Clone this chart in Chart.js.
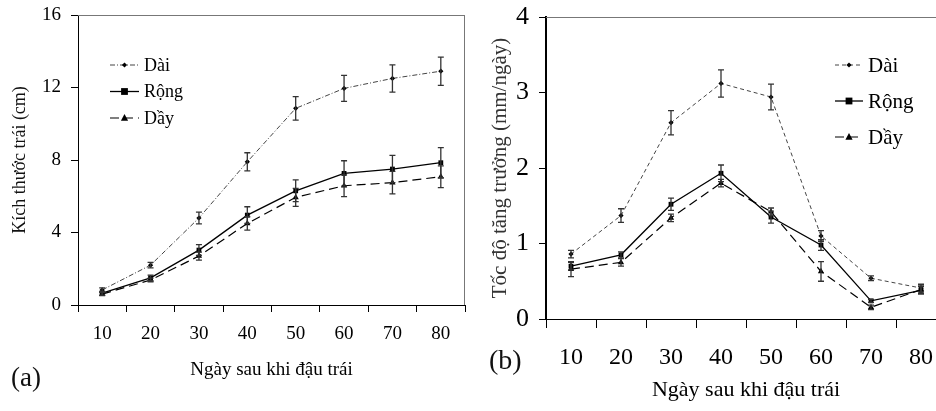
<!DOCTYPE html>
<html>
<head>
<meta charset="utf-8">
<script src="https://cdn.jsdelivr.net/npm/chart.js@4.4.1/dist/chart.umd.min.js"></script>
<style>
  body { margin: 0; width: 936px; height: 411px; overflow: hidden; background: #fff; position: relative; }
  canvas { position: absolute; top: 0; }
  #chartA { left: 0; }
  #chartB { left: 470px; }
  .panel-tag { position: absolute; font-family: "Liberation Serif", "Times New Roman", serif; color: #111; line-height: 1; }
</style>
</head>
<body>
<canvas id="chartA" width="470" height="411"></canvas>
<canvas id="chartB" width="490" height="411"></canvas>
<div class="panel-tag" style="left:11px; top:364px; font-size:27px;">(a)</div>
<div class="panel-tag" style="left:489px; top:346px; font-size:28px;">(b)</div>

<script>
// ================= DATA =================
const days = ["10", "20", "30", "40", "50", "60", "70", "80"];
const seriesNames = ["Dài", "Rộng", "Dầy"];

// (a) kich thuoc trai (cm)
const sizeDai = [0.83, 2.2, 4.8, 7.9, 10.85, 11.95, 12.5, 12.9];
const sizeDaiErr = [0.12, 0.15, 0.32, 0.5, 0.65, 0.72, 0.75, 0.78];
const sizeRong = [0.65, 1.5, 3.03, 4.96, 6.3, 7.26, 7.5, 7.85];
const sizeRongErr = [0.1, 0.15, 0.3, 0.46, 0.6, 0.7, 0.75, 0.83];
const sizeDay = [0.6, 1.38, 2.7, 4.5, 5.94, 6.58, 6.75, 7.08];
const sizeDayErr = [0.08, 0.1, 0.22, 0.37, 0.5, 0.6, 0.62, 0.6];

// (b) toc do tang truong (mm/ngay)
const rateDai = [0.86, 1.37, 2.6, 3.12, 2.94, 1.1, 0.54, 0.41];
const rateDaiErr = [0.05, 0.09, 0.16, 0.18, 0.17, 0.07, 0.03, 0.05];
const rateRong = [0.7, 0.85, 1.52, 1.93, 1.35, 0.98, 0.24, 0.38];
const rateRongErr = [0.05, 0.04, 0.08, 0.11, 0.08, 0.07, 0.02, 0.05];
const rateDay = [0.66, 0.75, 1.34, 1.8, 1.42, 0.63, 0.155, 0.39];
const rateDayErr = [0.1, 0.05, 0.05, 0.05, 0.05, 0.13, 0.03, 0.05];

const sizeTicks = [0, 4, 8, 12, 16];
const rateTicks = [0, 1, 2, 3, 4];

const SERIF = "'Liberation Serif', 'Times New Roman', serif";

// ================= MARKERS =================
function drawMarker(ctx, style, x, y, r) {
  ctx.beginPath();
  if (style === "rect") {
    ctx.rect(x - r, y - r, r * 2, r * 2);
  } else if (style === "triangle") {
    ctx.moveTo(x, y - r * 1.1);
    ctx.lineTo(x + r, y + r * 0.75);
    ctx.lineTo(x - r, y + r * 0.75);
    ctx.closePath();
  } else {
    ctx.moveTo(x, y - r);
    ctx.lineTo(x + r, y);
    ctx.lineTo(x, y + r);
    ctx.lineTo(x - r, y);
    ctx.closePath();
  }
  ctx.fill();
}

// ================= PLUGINS =================
// frame lines (top / right) in grey
const framePlugin = {
  id: "frame",
  beforeDatasetsDraw(chart, args, opts) {
    const { ctx, chartArea } = chart;
    ctx.save();
    ctx.strokeStyle = opts.color;
    ctx.lineWidth = 1;
    ctx.beginPath();
    ctx.moveTo(chartArea.left, chartArea.top + 0.5);
    ctx.lineTo(opts.toEdge ? chart.width : chartArea.right, chartArea.top + 0.5);
    if (!opts.toEdge) {
      ctx.moveTo(chartArea.right - 0.5, chartArea.top);
      ctx.lineTo(chartArea.right - 0.5, chartArea.bottom);
    }
    ctx.stroke();
    ctx.restore();
  },
};

// error bars, read from dataset.errors
const errorBarPlugin = {
  id: "errorBars",
  afterDatasetsDraw(chart) {
    const ctx = chart.ctx;
    const yScale = chart.scales.y;
    ctx.save();
    ctx.strokeStyle = "#333";
    ctx.lineWidth = 1.3;
    chart.data.datasets.forEach((ds, i) => {
      const meta = chart.getDatasetMeta(i);
      meta.data.forEach((pt, j) => {
        const err = ds.errors[j];
        const top = yScale.getPixelForValue(ds.data[j] + err);
        const bot = yScale.getPixelForValue(ds.data[j] - err);
        ctx.beginPath();
        ctx.moveTo(pt.x, top);
        ctx.lineTo(pt.x, bot);
        ctx.moveTo(pt.x - 3, top);
        ctx.lineTo(pt.x + 3, top);
        ctx.moveTo(pt.x - 3, bot);
        ctx.lineTo(pt.x + 3, bot);
        ctx.stroke();
      });
    });
    ctx.restore();
  },
};

// legend: line sample + marker + text
const lineLegendPlugin = {
  id: "lineLegend",
  afterDraw(chart, args, opts) {
    const ctx = chart.ctx;
    chart.data.datasets.forEach((ds, i) => {
      const y = opts.y + i * opts.gap;
      ctx.save();
      ctx.strokeStyle = ds.borderColor;
      ctx.lineWidth = ds.borderWidth;
      ctx.setLineDash(ds.borderDash || []);
      ctx.beginPath();
      ctx.moveTo(opts.x, y);
      ctx.lineTo(opts.x + opts.len, y);
      ctx.stroke();
      ctx.setLineDash([]);
      ctx.fillStyle = "#000";
      drawMarker(ctx, ds.pointStyle, opts.x + opts.len / 2, y, ds.pointRadius);
      ctx.font = opts.font;
      ctx.textBaseline = "middle";
      ctx.fillText(ds.label, opts.x + opts.len + opts.textGap, y + 1);
      ctx.restore();
    });
  },
};

// ================= BUILD DATASETS =================
function buildDatasets(values, errors, daiDash) {
  return [
    {
      label: seriesNames[0],
      data: values[0],
      errors: errors[0],
      borderColor: "#444",
      borderWidth: 1,
      borderDash: daiDash,
      pointStyle: "rectRot",
      pointRadius: 2.6,
      pointBackgroundColor: "#000",
      pointBorderWidth: 0,
    },
    {
      label: seriesNames[1],
      data: values[1],
      errors: errors[1],
      borderColor: "#000",
      borderWidth: 1.3,
      borderDash: [],
      pointStyle: "rect",
      pointRadius: 3.4,
      pointBackgroundColor: "#000",
      pointBorderWidth: 0,
    },
    {
      label: seriesNames[2],
      data: values[2],
      errors: errors[2],
      borderColor: "#000",
      borderWidth: 1.2,
      borderDash: [9, 5],
      pointStyle: "triangle",
      pointRadius: 3.6,
      pointBackgroundColor: "#000",
      pointBorderWidth: 0,
    },
  ];
}

// ================= PANEL =================
function createPanel(canvasId, p) {
  return new Chart(document.getElementById(canvasId), {
    type: "line",
    data: { labels: days, datasets: p.datasets },
    plugins: [framePlugin, errorBarPlugin, lineLegendPlugin],
    options: {
      responsive: false,
      animation: false,
      layout: { padding: p.padding },
      elements: { line: { tension: 0 } },
      plugins: {
        legend: { display: false },
        tooltip: { enabled: false },
        frame: { color: "#777", toEdge: p.toEdge },
        lineLegend: p.legend,
      },
      scales: {
        x: {
          offset: true,
          grid: {
            offset: true,
            drawOnChartArea: false,
            color: "#000",
            tickLength: p.xTickLen,
          },
          border: { color: "#000", width: 1 },
          ticks: {
            color: "#000",
            font: { family: SERIF, size: p.xFont },
            padding: p.xPad,
            maxRotation: 0,
          },
          title: {
            display: true,
            text: "Ngày sau khi đậu trái",
            color: "#000",
            font: { family: SERIF, size: p.xTitleFont },
            padding: 0,
          },
          afterFit: (s) => {
            s.height = p.xHeight;
            s.paddingLeft = 0;
            s.paddingRight = 0;
          },
        },
        y: {
          min: p.yTicks[0],
          max: p.yTicks[p.yTicks.length - 1],
          afterBuildTicks: (s) => {
            s.ticks = p.yTicks.map((v) => ({ value: v }));
          },
          grid: {
            drawOnChartArea: false,
            color: "#000",
            tickLength: 7,
          },
          border: { color: "#000", width: p.yBorder },
          ticks: {
            color: "#000",
            font: { family: SERIF, size: p.yFont },
            padding: p.yPad,
          },
          title: {
            display: true,
            text: p.yTitle,
            color: p.yTitleColor,
            font: { family: SERIF, size: p.yTitleFont },
            padding: 0,
          },
          afterFit: (s) => {
            s.width = p.yWidth;
            s.paddingTop = 0;
            s.paddingBottom = 0;
          },
        },
      },
    },
  });
}

// ================= (a) SIZE =================
createPanel("chartA", {
  datasets: buildDatasets(
    [sizeDai, sizeRong, sizeDay],
    [sizeDaiErr, sizeRongErr, sizeDayErr],
    [5, 2, 1, 2]
  ),
  padding: { left: 9, top: 15, right: 5, bottom: 30 },
  toEdge: false,
  xHeight: 76,
  yWidth: 69,
  xTickLen: 7,
  xFont: 19,
  xPad: 11,
  xTitleFont: 19,
  yFont: 19,
  yPad: 10,
  yBorder: 1,
  yTicks: sizeTicks,
  yTitle: "Kích thước trái (cm)",
  yTitleColor: "#111",
  yTitleFont: 18,
  legend: { x: 110, y: 65, gap: 26.5, len: 29, textGap: 5, font: "18px " + SERIF },
});

// ================= (b) GROWTH RATE =================
createPanel("chartB", {
  datasets: buildDatasets(
    [rateDai, rateRong, rateDay],
    [rateDaiErr, rateRongErr, rateDayErr],
    [4, 3]
  ),
  padding: { left: 18, top: 17, right: 14, bottom: 8 },
  toEdge: true,
  xHeight: 84,
  yWidth: 58,
  xTickLen: 9,
  xFont: 24,
  xPad: 15,
  xTitleFont: 22,
  yFont: 26,
  yPad: 10,
  yBorder: 2,
  yTicks: rateTicks,
  yTitle: "Tốc độ tăng trưởng (mm/ngày)",
  yTitleColor: "#333",
  yTitleFont: 21,
  legend: { x: 365, y: 65, gap: 36, len: 28, textGap: 5, font: "21px " + SERIF },
});
</script>
</body>
</html>
